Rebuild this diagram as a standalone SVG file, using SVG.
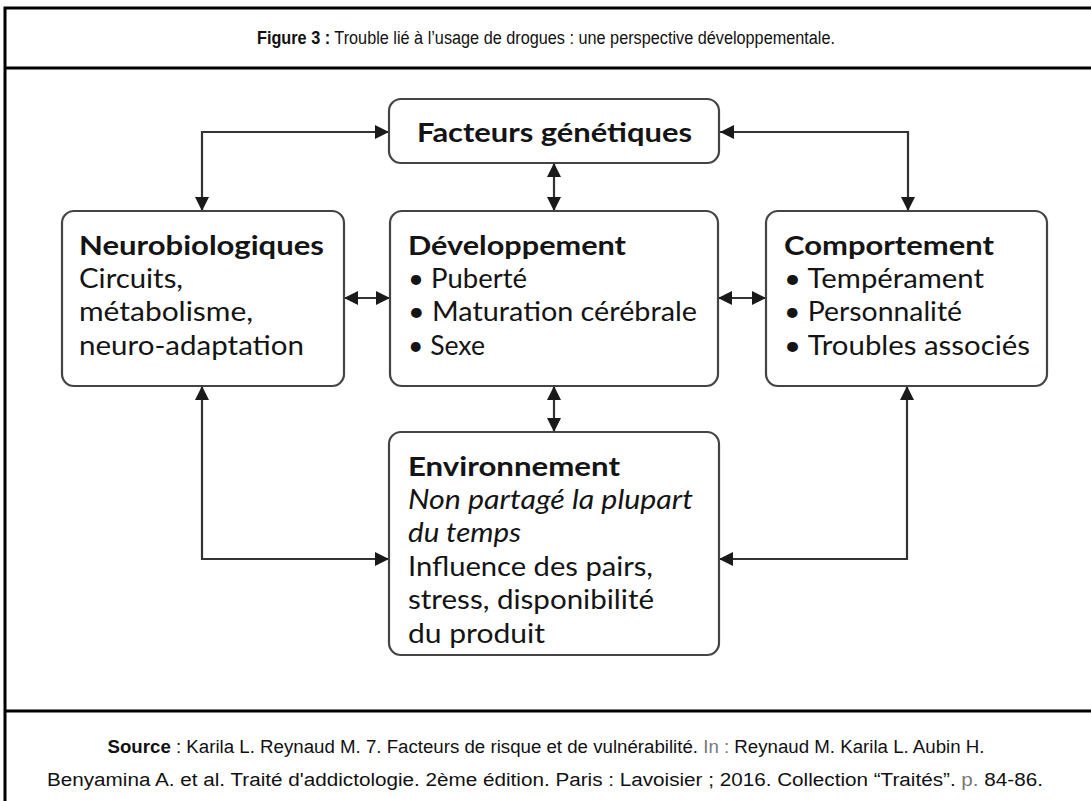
<svg xmlns="http://www.w3.org/2000/svg" width="1091" height="801" viewBox="0 0 1091 801">
<style>
.frame{stroke:#000;stroke-width:3;fill:none}
.box{fill:#fff;stroke:#444;stroke-width:2.2}
.con{fill:none;stroke:#333;stroke-width:2.2;marker-start:url(#ah);marker-end:url(#ah)}
.t{font-family:Lato,"Open Sans",sans-serif;font-size:27px;fill:#141414}
.b{font-weight:bold}
.i{font-style:italic}
.cap{font-family:"Liberation Sans",Arial,sans-serif;font-size:18px;fill:#111}
.gray{fill:#777}
</style>
<defs>
<marker id="ah" viewBox="0 0 14 14" refX="14" refY="7" markerWidth="14" markerHeight="14" markerUnits="userSpaceOnUse" orient="auto-start-reverse">
<path d="M0,0 L14,7 L0,14 z" fill="#1a1a1a"/>
</marker>
</defs>
<rect width="1091" height="801" fill="#fff"/>
<g id="frame">
<path class="frame" d="M5,801 V8 H1091"/>
<path class="frame" d="M5,68 H1091"/>
<path class="frame" d="M5,711 H1091"/>
</g>
<g id="title">
<text class="cap" x="546" y="44" text-anchor="middle" textLength="578" lengthAdjust="spacingAndGlyphs"><tspan font-weight="bold">Figure 3 :</tspan> Trouble lié à l’usage de drogues : une perspective développementale.</text>
</g>
<g id="connectors">
<path class="con" d="M202,211 V132 H389"/>
<path class="con" d="M908,211 V132 H720"/>
<path class="con" d="M554,163 V211"/>
<path class="con" d="M344,298 H390"/>
<path class="con" d="M718,298 H766"/>
<path class="con" d="M554,386 V432"/>
<path class="con" d="M202,386 V559 H389"/>
<path class="con" d="M907,386 V559 H719"/>
</g>
<g id="facteurs">
<rect class="box" x="389" y="99" width="330" height="64" rx="12"/>
<text class="t b" x="417" y="142" textLength="275" lengthAdjust="spacingAndGlyphs">Facteurs génétiques</text>
</g>
<g id="neuro">
<rect class="box" x="62" y="211" width="282" height="175" rx="12"/>
<text class="t b" x="79" y="255" textLength="245" lengthAdjust="spacingAndGlyphs">Neurobiologiques</text>
<text class="t" x="79" y="288" textLength="104" lengthAdjust="spacingAndGlyphs">Circuits,</text>
<text class="t" x="79" y="321" textLength="174" lengthAdjust="spacingAndGlyphs">métabolisme,</text>
<text class="t" x="79" y="355" textLength="225" lengthAdjust="spacingAndGlyphs">neuro-adaptation</text>
</g>
<g id="developpement">
<rect class="box" x="390" y="211" width="328" height="175" rx="12"/>
<text class="t b" x="408" y="255" textLength="218" lengthAdjust="spacingAndGlyphs">Développement</text>
<text class="t" x="408" y="288" textLength="119" lengthAdjust="spacingAndGlyphs">• Puberté</text>
<text class="t" x="408" y="321" textLength="289" lengthAdjust="spacingAndGlyphs">• Maturation cérébrale</text>
<text class="t" x="408" y="355" textLength="77" lengthAdjust="spacingAndGlyphs">• Sexe</text>
</g>
<g id="comportement">
<rect class="box" x="766" y="211" width="281" height="175" rx="12"/>
<text class="t b" x="784" y="255" textLength="210" lengthAdjust="spacingAndGlyphs">Comportement</text>
<text class="t" x="784" y="288" textLength="200" lengthAdjust="spacingAndGlyphs">• Tempérament</text>
<text class="t" x="784" y="321" textLength="178" lengthAdjust="spacingAndGlyphs">• Personnalité</text>
<text class="t" x="784" y="355" textLength="246" lengthAdjust="spacingAndGlyphs">• Troubles associés</text>
</g>
<g id="environnement">
<rect class="box" x="389" y="432" width="330" height="223" rx="12"/>
<text class="t b" x="408" y="476" textLength="212" lengthAdjust="spacingAndGlyphs">Environnement</text>
<text class="t i" x="408" y="509" textLength="285" lengthAdjust="spacingAndGlyphs">Non partagé la plupart</text>
<text class="t i" x="408" y="542" textLength="113" lengthAdjust="spacingAndGlyphs">du temps</text>
<text class="t" x="408" y="576" textLength="245" lengthAdjust="spacingAndGlyphs">Influence des pairs,</text>
<text class="t" x="408" y="609" textLength="246" lengthAdjust="spacingAndGlyphs">stress, disponibilité</text>
<text class="t" x="408" y="643" textLength="137" lengthAdjust="spacingAndGlyphs">du produit</text>
</g>
<g id="source">
<text class="cap" x="546" y="753" text-anchor="middle" textLength="877" lengthAdjust="spacingAndGlyphs"><tspan font-weight="bold">Source</tspan> : Karila L. Reynaud M. 7. Facteurs de risque et de vulnérabilité.  <tspan class="gray">In :</tspan> Reynaud M. Karila L. Aubin H.</text>
<text class="cap" x="545" y="786" text-anchor="middle" textLength="996" lengthAdjust="spacingAndGlyphs">Benyamina A. et al. Traité d'addictologie. 2ème édition. Paris : Lavoisier ; 2016. Collection “Traités”.  <tspan class="gray">p.</tspan> 84-86.</text>
</g>
</svg>
